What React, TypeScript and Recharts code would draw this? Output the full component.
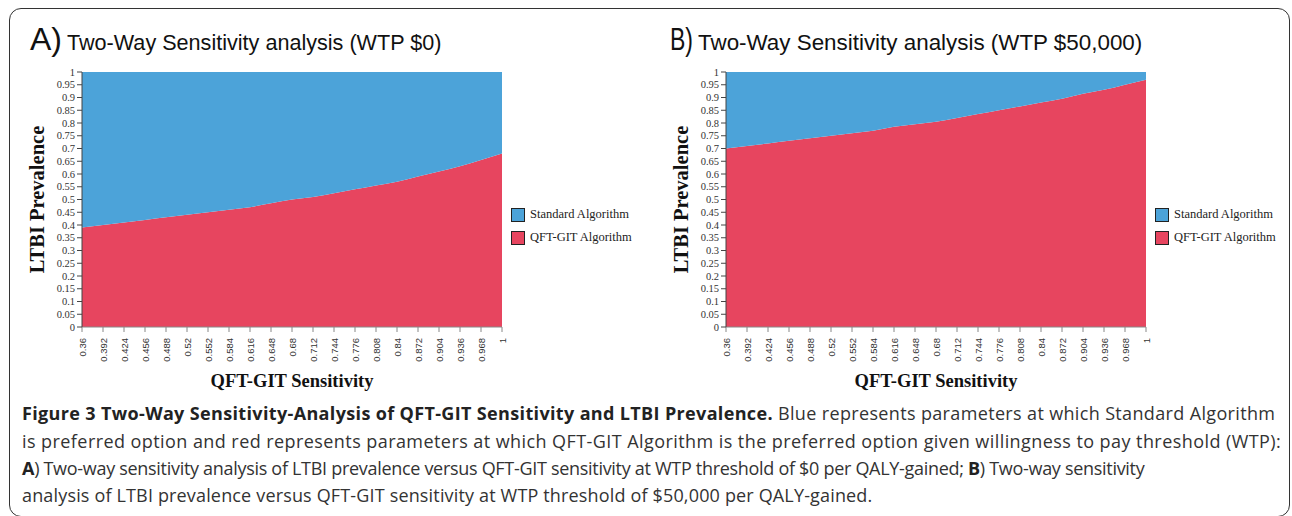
import React from "react";
import { AreaChart, Area, XAxis, YAxis } from "recharts";

// QFT-GIT sensitivity grid (x axis ticks)
const sensitivity = [
  0.36, 0.392, 0.424, 0.456, 0.488, 0.52, 0.552, 0.584, 0.616, 0.648, 0.68,
  0.712, 0.744, 0.776, 0.808, 0.84, 0.872, 0.904, 0.936, 0.968, 1,
];

// LTBI prevalence threshold below which QFT-GIT is preferred
const thresholdWtp0 = [
  0.39, 0.4, 0.41, 0.42, 0.43, 0.44, 0.45, 0.46, 0.47, 0.485, 0.5, 0.51,
  0.525, 0.54, 0.555, 0.57, 0.59, 0.61, 0.63, 0.655, 0.68,
];
const thresholdWtp50k = [
  0.7, 0.71, 0.72, 0.73, 0.74, 0.75, 0.76, 0.77, 0.785, 0.795, 0.805, 0.82,
  0.835, 0.85, 0.865, 0.88, 0.895, 0.915, 0.93, 0.95, 0.97,
];

const prevalenceTicks = [
  0, 0.05, 0.1, 0.15, 0.2, 0.25, 0.3, 0.35, 0.4, 0.45, 0.5, 0.55, 0.6, 0.65,
  0.7, 0.75, 0.8, 0.85, 0.9, 0.95, 1,
];

const seriesNames = ["Standard Algorithm", "QFT-GIT Algorithm"];

const BLUE = "#4ca3d9";
const RED = "#e7455f";
const SERIF = "'Liberation Serif', 'Times New Roman', serif";
const SANS = "'Liberation Sans', Arial, sans-serif";

const XTick = (props: any) => {
  const { x, y, payload } = props;
  return (
    <text
      x={x}
      y={y}
      transform={`rotate(-90 ${x} ${y})`}
      textAnchor="end"
      dominantBaseline="central"
      fontSize={9.5}
      fontFamily={SANS}
      fill="#333"
    >
      {String(payload.value)}
    </text>
  );
};

const LegendBox = ({ left }: { left: number }) => (
  <div
    style={{
      position: "absolute",
      left,
      top: 203,
      fontFamily: SERIF,
      fontSize: 12.5,
      color: "#222",
      whiteSpace: "nowrap",
    }}
  >
    {[BLUE, RED].map((c, i) => (
      <div key={i} style={{ display: "flex", alignItems: "center", height: 23 }}>
        <span
          style={{
            width: 12,
            height: 12,
            background: c,
            border: "1.5px solid #222",
            marginRight: 5,
          }}
        />
        {seriesNames[i]}
      </div>
    ))}
  </div>
);

function Panel({ threshold, left }: { threshold: number[]; left: number }) {
  const data = sensitivity.map((s, i) => ({
    s,
    qft: threshold[i],
    std: 1 - threshold[i],
  }));
  return (
    <div style={{ position: "absolute", left, top: 0, width: 640, height: 400 }}>
      <AreaChart
        width={640}
        height={400}
        data={data}
        margin={{ top: 72, right: 138, bottom: 13, left: 22 }}
      >
        <XAxis
          dataKey="s"
          type="number"
          domain={[0.36, 1]}
          ticks={sensitivity}
          interval={0}
          height={60}
          tick={<XTick />}
          tickSize={5}
          tickMargin={6}
          stroke="#888"
          label={{
            value: "QFT-GIT Sensitivity",
            position: "insideBottom",
            offset: 0,
            style: {
              fontFamily: SERIF,
              fontWeight: "bold",
              fontSize: 18.5,
              fill: "#111",
            },
          }}
        />
        <YAxis
          type="number"
          domain={[0, 1]}
          ticks={prevalenceTicks}
          interval={0}
          width={60}
          tickSize={5}
          stroke="#444"
          tick={{ fontSize: 10.5, fontFamily: SERIF, fill: "#333" }}
          label={{
            value: "LTBI Prevalence",
            angle: -90,
            position: "insideLeft",
            offset: 15,
            style: {
              textAnchor: "middle",
              fontFamily: SERIF,
              fontWeight: "bold",
              fontSize: 20.5,
              fill: "#111",
            },
          }}
        />
        <Area
          type="monotone"
          dataKey="qft"
          stackId="1"
          stroke="none"
          fill={RED}
          fillOpacity={1}
          isAnimationActive={false}
        />
        <Area
          type="monotone"
          dataKey="std"
          stackId="1"
          stroke="none"
          fill={BLUE}
          fillOpacity={1}
          isAnimationActive={false}
        />
      </AreaChart>
      <LegendBox left={511} />
    </div>
  );
}

const Title = ({
  letter,
  text,
  left,
  letterScale,
  textSize,
}: {
  letter: string;
  text: string;
  left: number;
  letterScale: number;
  textSize: number;
}) => (
  <div
    style={{
      position: "absolute",
      left,
      top: 22,
      fontFamily: SANS,
      color: "#111",
      whiteSpace: "nowrap",
      display: "flex",
      alignItems: "baseline",
    }}
  >
    <span
      style={{
        fontSize: 32,
        lineHeight: "34px",
        display: "inline-block",
        width: 32 * letterScale,
        transform: `scaleX(${letterScale})`,
        transformOrigin: "left",
      }}
    >
      {letter})
    </span>
    <span style={{ fontSize: textSize, marginLeft: 5 }}>{text}</span>
  </div>
);

const captionStyle: React.CSSProperties = {
  position: "absolute",
  left: 22,
  fontFamily: "'Open Sans', sans-serif",
  fontSize: 18,
  lineHeight: "20px",
  color: "#333",
  whiteSpace: "nowrap",
};

export default function App() {
  return (
    <div
      style={{
        position: "relative",
        width: 1292,
        height: 516,
        overflow: "hidden",
        background: "#fff",
      }}
    >
      <style>{"body{margin:0}"}</style>
      <div
        style={{
          position: "absolute",
          left: 9,
          top: 8,
          width: 1279,
          height: 507,
          border: "1.5px solid #333",
          borderRadius: 12,
        }}
      />
      <Title
        letter="A"
        text="Two-Way Sensitivity analysis (WTP $0)"
        left={30}
        letterScale={1}
        textSize={21.6}
      />
      <Title
        letter="B"
        text="Two-Way Sensitivity analysis (WTP $50,000)"
        left={670}
        letterScale={0.72}
        textSize={22.4}
      />
      <Panel threshold={thresholdWtp0} left={0} />
      <Panel threshold={thresholdWtp50k} left={644} />
      <div style={{ ...captionStyle, top: 403, letterSpacing: 0.35 }}>
        <b style={{ color: "#222" }}>
          Figure 3 Two-Way Sensitivity-Analysis of QFT-GIT Sensitivity and LTBI Prevalence.
        </b>{" "}
        Blue represents parameters at which Standard Algorithm
      </div>
      <div style={{ ...captionStyle, top: 431, letterSpacing: 0.43 }}>
        is preferred option and red represents parameters at which QFT-GIT Algorithm is the
        preferred option given willingness to pay threshold (WTP):
      </div>
      <div style={{ ...captionStyle, top: 458, letterSpacing: -0.3 }}>
        <b style={{ color: "#222" }}>A</b>) Two-way sensitivity analysis of LTBI prevalence
        versus QFT-GIT sensitivity at WTP threshold of $0 per QALY-gained;{" "}
        <b style={{ color: "#222" }}>B</b>) Two-way sensitivity
      </div>
      <div style={{ ...captionStyle, top: 485, letterSpacing: 0.16 }}>
        analysis of LTBI prevalence versus QFT-GIT sensitivity at WTP threshold of $50,000 per
        QALY-gained.
      </div>
    </div>
  );
}
